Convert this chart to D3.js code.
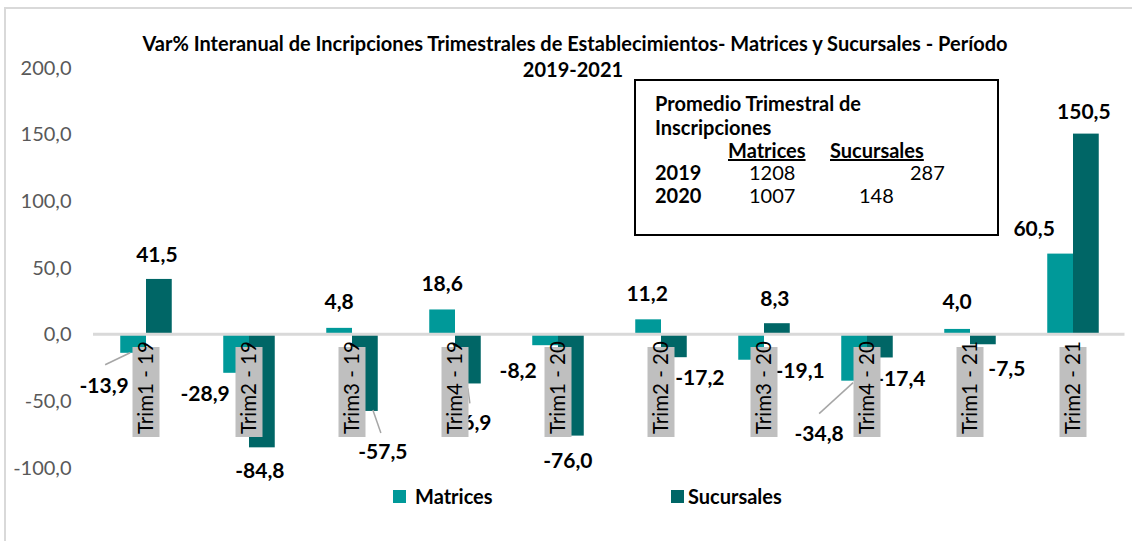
<!DOCTYPE html>
<html>
<head>
<meta charset="utf-8">
<script src="https://cdn.jsdelivr.net/npm/d3@7"></script>
<style>
  body { margin: 0; background: #fff; }
  svg { font-family: Lato, "Open Sans", sans-serif; }
</style>
</head>
<body>
<div id="container"></div>
<script>
/* DATA */
const categories = ["Trim1 - 19", "Trim2 - 19", "Trim3 - 19", "Trim4 - 19", "Trim1 - 20",
  "Trim2 - 20", "Trim3 - 20", "Trim4 - 20", "Trim1 - 21", "Trim2 - 21"];
const matrices = [-13.9, -28.9, 4.8, 18.6, -8.2, 11.2, -19.1, -34.8, 4.0, 60.5];
const sucursales = [41.5, -84.8, -57.5, -36.9, -76.0, -17.2, 8.3, -17.4, -7.5, 150.5];
const seriesNames = ["Matrices", "Sucursales"];
const yTicks = [-100, -50, 0, 50, 100, 150, 200];

// inset table
const insetYears = ["2019", "2020"];
const insetMatrices = [1208, 1007];
const insetSucursales = [287, 148];

/* CONSTANTS */
const width = 1132, height = 541;
const margin = { top: 67.6, bottom: 73.4, left: 94.5, right: 7.5 };
const colors = ["#009999", "#006666"];

// manual label nudges (px) relative to bar end, like the hand-placed excel labels
const labelOffsets = [
  [[-29, 33], [-2, -24]],
  [[-31, 21], [-2, 23]],
  [[0, -26], [18, 41]],
  [[0, -26], [-1, 39]],
  [[-27, 25], [-3, 25]],
  [[-1, -26], [26, 20]],
  [[49, 11], [-2, -25]],
  [[-35, 53], [21, 21]],
  [[0, -27], [24, 24]],
  [[-26, -25], [-2, -22]]
];
// leader lines: [category index, series index, start offset, end offset]
const leaders = [
  [0, 0, [-28, 12], [-3, 0]],
  [2, 1, [8, -1], [16, 22]],
  [3, 1, [0, 5], [2, 20]],
  [7, 0, [-35, 33], [-1, 2]]
];

const locale = d3.formatLocale({ decimal: ",", thousands: ".", grouping: [3], currency: ["", ""], minus: "-" });
const fmt = locale.format(".1f");

/* SCALES */
const xScale = d3.scaleBand()
  .domain(categories)
  .range([margin.left, width - margin.right])
  .paddingInner(0.5)
  .paddingOuter(0.25);

const xSub = d3.scaleBand()
  .domain(seriesNames)
  .range([0, xScale.bandwidth()]);

const yScale = d3.scaleLinear()
  .domain([-100, 200])
  .range([height - margin.bottom, margin.top]);

const svg = d3.select("#container")
  .append("svg")
  .attr("width", width)
  .attr("height", height);

// outer chart border
svg.append("rect")
  .attr("x", 5).attr("y", 8)
  .attr("width", width + 10).attr("height", height + 10)
  .attr("fill", "none")
  .attr("stroke", "#d9d9d9")
  .attr("stroke-width", 2);

// title
const title = svg.append("text")
  .attr("text-anchor", "middle")
  .attr("font-weight", "bold")
  .attr("font-size", 20)
  .attr("fill", "#000");
title.append("tspan").attr("x", 575).attr("y", 51)
  .text("Var% Interanual de Incripciones Trimestrales de Establecimientos- Matrices y Sucursales - Período");
title.append("tspan").attr("x", 573).attr("y", 77).text("2019-2021");

// y axis
const yAxis = d3.axisLeft(yScale)
  .tickValues(yTicks)
  .tickFormat(fmt)
  .tickSize(0)
  .tickPadding(23);

const gy = svg.append("g")
  .attr("transform", `translate(${margin.left},0)`)
  .call(yAxis);
gy.select(".domain").remove();
gy.selectAll("text")
  .attr("font-family", "Lato, sans-serif")
  .attr("font-size", 20)
  .attr("fill", "#595959");

// bars
const rows = categories.map((c, i) => ({ cat: c, i, vals: [matrices[i], sucursales[i]] }));
const barData = rows.flatMap(r => r.vals.map((v, s) => ({ cat: r.cat, i: r.i, s, v })));

const barX = d => xScale(d.cat) + xSub(seriesNames[d.s]);
const barCx = d => barX(d) + xSub.bandwidth() / 2;

svg.selectAll("rect.bar")
  .data(barData)
  .join("rect")
  .attr("class", "bar")
  .attr("x", barX)
  .attr("width", xSub.bandwidth())
  .attr("y", d => yScale(Math.max(0, d.v)))
  .attr("height", d => Math.abs(yScale(d.v) - yScale(0)))
  .attr("fill", d => colors[d.s]);

// zero line
svg.append("line")
  .attr("x1", margin.left - 1.5).attr("x2", width - margin.right)
  .attr("y1", yScale(0)).attr("y2", yScale(0))
  .attr("stroke", "#d9d9d9")
  .attr("stroke-width", 3);

// leader lines
svg.selectAll("line.leader")
  .data(leaders)
  .join("line")
  .attr("class", "leader")
  .attr("x1", l => barCx(barData[l[0] * 2 + l[1]]) + l[2][0])
  .attr("y1", l => yScale(barData[l[0] * 2 + l[1]].v) + l[2][1])
  .attr("x2", l => barCx(barData[l[0] * 2 + l[1]]) + l[3][0])
  .attr("y2", l => yScale(barData[l[0] * 2 + l[1]].v) + l[3][1])
  .attr("stroke", "#a6a6a6")
  .attr("stroke-width", 1.5);

// data labels
svg.selectAll("text.value")
  .data(barData)
  .join("text")
  .attr("class", "value")
  .attr("x", d => barCx(d) + labelOffsets[d.i][d.s][0])
  .attr("y", d => yScale(d.v) + labelOffsets[d.i][d.s][1])
  .attr("dy", "0.35em")
  .attr("text-anchor", "middle")
  .attr("font-weight", "bold")
  .attr("font-size", 21)
  .attr("fill", "#000")
  .text(d => fmt(d.v));

// category labels on grey boxes
const catG = svg.selectAll("g.cat")
  .data(categories)
  .join("g")
  .attr("class", "cat")
  .attr("transform", d => `translate(${xScale(d) + xScale.bandwidth() / 2},392)`);

catG.append("rect")
  .attr("x", -13.5).attr("y", -45)
  .attr("width", 27).attr("height", 90)
  .attr("fill", "#bfbfbf");

catG.append("text")
  .attr("transform", "rotate(-90)")
  .attr("x", -42)
  .attr("text-anchor", "start")
  .attr("dy", "0.36em")
  .attr("font-size", 20.5)
  .attr("fill", "#000")
  .text(d => d);

// legend
const legend = svg.selectAll("g.legend")
  .data(seriesNames)
  .join("g")
  .attr("class", "legend")
  .attr("transform", (d, i) => `translate(${i === 0 ? 393 : 671},490)`);

legend.append("rect")
  .attr("width", 13).attr("height", 13)
  .attr("fill", (d, i) => colors[i]);

legend.append("text")
  .attr("x", (d, i) => i === 0 ? 22 : 17)
  .attr("y", 7)
  .attr("dy", "0.35em")
  .attr("font-weight", "bold")
  .attr("font-size", 20)
  .attr("fill", "#000")
  .text(d => d);

// inset box: quarterly averages
const inset = svg.append("g").attr("transform", "translate(635,80)");
inset.append("rect")
  .attr("width", 363).attr("height", 155)
  .attr("fill", "#fff")
  .attr("stroke", "#000")
  .attr("stroke-width", 2);

inset.append("text").attr("x", 20).attr("y", 31)
  .attr("font-weight", "bold").attr("font-size", 20).text("Promedio Trimestral de");
inset.append("text").attr("x", 20).attr("y", 55)
  .attr("font-weight", "bold").attr("font-size", 20).text("Inscripciones");
inset.append("text").attr("x", 93).attr("y", 78)
  .attr("font-weight", "bold").attr("font-size", 20)
  .attr("text-decoration", "underline").text(seriesNames[0]);
inset.append("text").attr("x", 195).attr("y", 78)
  .attr("font-weight", "bold").attr("font-size", 20)
  .attr("text-decoration", "underline").text(seriesNames[1]);

const insetRows = inset.selectAll("g.row")
  .data(insetYears)
  .join("g")
  .attr("class", "row")
  .attr("transform", (d, i) => `translate(0,${100 + i * 23})`);
insetRows.append("text").attr("x", 20)
  .attr("font-weight", "bold").attr("font-size", 20).text(d => d);
insetRows.append("text").attr("x", 114)
  .attr("font-size", 20).text((d, i) => insetMatrices[i]);
insetRows.append("text").attr("x", (d, i) => i === 0 ? 275 : 224)
  .attr("font-size", 20).text((d, i) => insetSucursales[i]);
</script>
</body>
</html>
